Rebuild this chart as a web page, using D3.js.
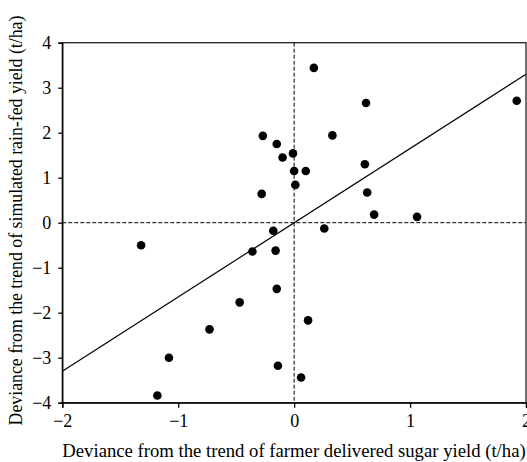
<!DOCTYPE html>
<html>
<head>
<meta charset="utf-8">
<script src="https://cdn.jsdelivr.net/npm/d3@7"></script>
<style>
  body { margin: 0; background: #fff; }
  svg text { font-family: "Liberation Serif", "DejaVu Serif", serif; fill: #000; }
</style>
</head>
<body>
<div id="chart"></div>
<script>
// sugar yield deviance (x) vs simulated rain-fed yield deviance (y), t/ha
const sugarDev = [0.17, -0.27, -0.15, -0.10, -0.01, 0.00, 0.10, 0.01, -0.28, -0.18,
  0.62, 0.33, 0.61, 0.63, 0.69, 1.06, 0.26, 1.92, -1.32, -0.36,
  -0.16, -0.15, -0.47, -0.73, 0.12, -1.08, -0.14, 0.06, -1.18];
const rainfedDev = [3.44, 1.93, 1.75, 1.45, 1.54, 1.15, 1.15, 0.84, 0.64, -0.18,
  2.66, 1.94, 1.30, 0.67, 0.18, 0.13, -0.13, 2.71, -0.50, -0.64,
  -0.62, -1.47, -1.77, -2.37, -2.17, -3.00, -3.18, -3.44, -3.84];
const fitSlope = 1.65;
const xTicks = [-2, -1, 0, 1, 2];
const yTicks = [-4, -3, -2, -1, 0, 1, 2, 3, 4];

const W = 527, H = 462;
const margin = { top: 42.7, right: 1, bottom: 59.3, left: 62.3 };
const width = W - margin.left - margin.right;
const height = H - margin.top - margin.bottom;

const svg = d3.select('#chart').append('svg')
  .attr('width', W).attr('height', H);
const g = svg.append('g')
  .attr('transform', `translate(${margin.left},${margin.top})`);

const x = d3.scaleLinear().domain([-2, 2]).range([0, width]);
const y = d3.scaleLinear().domain([-4, 4]).range([height, 0]);

// zero reference lines
g.append('line')
  .attr('x1', x(0)).attr('x2', x(0)).attr('y1', 0).attr('y2', height)
  .attr('stroke', '#000').attr('stroke-width', 1).attr('stroke-dasharray', '4,2');
g.append('line')
  .attr('x1', 0).attr('x2', width).attr('y1', y(0)).attr('y2', y(0))
  .attr('stroke', '#000').attr('stroke-width', 1).attr('stroke-dasharray', '4,2');

// fitted line through origin
const line = d3.line().x(d => x(d)).y(d => y(d * fitSlope));
g.append('path')
  .attr('d', line([-2, 2]))
  .attr('fill', 'none').attr('stroke', '#000').attr('stroke-width', 1.2);

// points
g.selectAll('circle')
  .data(sugarDev.map((d, i) => [d, rainfedDev[i]]))
  .enter().append('circle')
  .attr('cx', d => x(d[0]))
  .attr('cy', d => y(d[1]))
  .attr('r', 4.3)
  .attr('fill', '#000');

// frame
g.append('rect')
  .attr('width', width).attr('height', height)
  .attr('fill', 'none').attr('stroke', '#222').attr('stroke-width', 1.3);

const minus = d => d < 0 ? '\u2212' + Math.abs(d) : d;
const xAxis = d3.axisBottom(x).tickValues(xTicks).tickSize(5).tickPadding(7).tickFormat(minus);
const yAxis = d3.axisLeft(y).tickValues(yTicks).tickSize(4).tickPadding(7).tickFormat(minus);

g.append('g').attr('class', 'x axis')
  .attr('transform', `translate(0,${height})`)
  .call(xAxis);
g.append('g').attr('class', 'y axis').call(yAxis);

svg.selectAll('.axis path').attr('stroke', '#000').attr('stroke-width', 1.3);
svg.selectAll('.axis line').attr('stroke', '#000').attr('stroke-width', 1.3);
svg.selectAll('.axis text').attr('font-size', 18).attr('font-family', '"Liberation Serif", serif');

// axis titles
svg.append('text')
  .attr('x', 294)
  .attr('y', 456.5)
  .attr('text-anchor', 'middle')
  .attr('font-size', 18.7)
  .text('Deviance from the trend of farmer delivered sugar yield (t/ha)');

svg.append('text')
  .attr('transform', `translate(22,220.5) rotate(-90)`)
  .attr('text-anchor', 'middle')
  .attr('font-size', 17.8)
  .text('Deviance from the trend of simulated rain-fed yield (t/ha)');
</script>
</body>
</html>
